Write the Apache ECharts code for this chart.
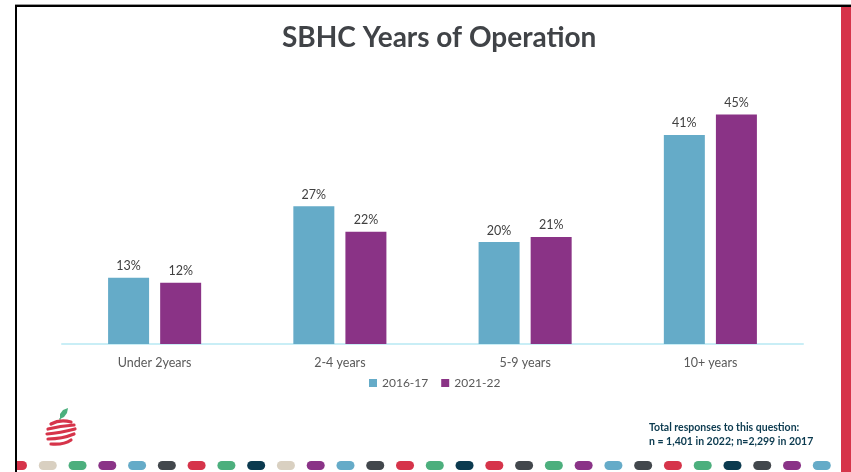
<!DOCTYPE html>
<html>
<head>
<meta charset="utf-8">
<script src="https://cdn.jsdelivr.net/npm/echarts@6/dist/echarts.min.js"></script>
<style>html,body{margin:0;padding:0;background:#fff;}#c{width:851px;height:472px;}</style>
</head>
<body>
<div id="c"></div>
<script>
const categories = ['Under 2years', '2-4 years', '5-9 years', '10+ years'];
const seriesNames = ['2016-17', '2021-22'];
const values2016 = [13, 27, 20, 41];
const values2021 = [12, 22, 21, 45];
const titleText = 'SBHC Years of Operation';
const noteLines = ['Total responses to this question:', 'n = 1,401 in 2022; n=2,299 in 2017'];
const dotColors = ['#d6344a','#d9d0c1','#4caf7d','#8a3387','#65abc8','#42474c','#d6344a','#4caf7d','#0b3a4f','#d9d0c1','#8a3387','#65abc8','#42474c','#d6344a','#4caf7d','#0b3a4f','#d6344a','#42474c','#4caf7d','#8a3387','#65abc8','#42474c','#d6344a','#4caf7d','#0b3a4f','#42474c','#8a3387','#65abc8'];

const chart = echarts.init(document.getElementById('c'), null, {renderer: 'canvas'});

const graphics = [];
// frame lines
graphics.push({type:'rect', shape:{x:15, y:4, width:836, height:1}, style:{fill:'#9a9a9a'}, silent:true});
graphics.push({type:'rect', shape:{x:15, y:5, width:836, height:2}, style:{fill:'#000'}, silent:true});
graphics.push({type:'rect', shape:{x:15, y:5, width:2, height:467}, style:{fill:'#000'}, silent:true});
graphics.push({type:'rect', shape:{x:841, y:7, width:10, height:465}, style:{fill:'#d6344a'}, silent:true});
// dots row
dotColors.forEach((c, i) => {
  graphics.push({type:'rect', shape:{x:9 + i*29.77, y:461, width:18, height:9, r:4.5}, style:{fill:c}, silent:true, z:1});
});
graphics.push({type:'rect', shape:{x:0, y:455, width:15, height:17}, style:{fill:'#fff'}, silent:true, z:2});
graphics.push({type:'rect', shape:{x:15, y:455, width:2, height:17}, style:{fill:'#000'}, silent:true, z:3});
// logo: leaf + stripes
graphics.push({type:'polygon', shape:{points:[[60,419],[60,414],[63,410],[68,408],[67,413],[64,417]]}, style:{fill:'#4caf7d'}, silent:true});
graphics.push({type:'line', shape:{x1:60, y1:418, x2:60, y2:421}, style:{stroke:'#4caf7d', lineWidth:1.2}, silent:true});
const stripes = [
  [51,424,60,419,71,422],
  [48,429,60,426,74,425],
  [47,434,60,433,75,429],
  [48,439,62,439,74,434],
  [51,444,64,445,71,440]
];
stripes.forEach(s => graphics.push({type:'bezierCurve', shape:{x1:s[0], y1:s[1], cpx1:s[2], cpy1:s[3], x2:s[4], y2:s[5]}, style:{stroke:'#d6344a', lineWidth:3.2, fill:null, lineCap:'round'}, silent:true}));
// footnote
graphics.push({type:'text', left:649, top:421, style:{text: noteLines.join('\n'), font:'bold 10.5px Lato', fill:'#0b3a4f', lineHeight:14}, silent:true});

chart.setOption({
  backgroundColor:'#ffffff',
  animation:false,
  title:{text:titleText, left:277, top:19, textStyle:{fontFamily:'Lato', fontWeight:'bold', fontSize:28, color:'#404347'}},
  legend:{data:seriesNames, bottom:78, left:364, icon:'rect', itemWidth:8, itemHeight:8, itemGap:13,
    textStyle:{fontFamily:'Lato', fontSize:12, color:'#595959'}},
  grid:{left:62, right:48, top:89, bottom:128, containLabel:false},
  xAxis:{type:'category', data:categories, axisLine:{show:true, lineStyle:{color:'#c9eef6', width:2}}, axisTick:{show:false},
    axisLabel:{fontFamily:'Lato', fontSize:12.5, color:'#595959', margin:12}},
  yAxis:{type:'value', min:0, max:50, show:false, splitLine:{show:false}},
  series:[
    {name:seriesNames[0], type:'bar', data:values2016, barWidth:41, barGap:'27%', itemStyle:{color:'#65abc8'},
      label:{show:true, position:'top', distance:5, formatter:'{c}%', fontFamily:'Lato', fontSize:12.5, color:'#404040'}},
    {name:seriesNames[1], type:'bar', data:values2021, barWidth:41, itemStyle:{color:'#8a3386'},
      label:{show:true, position:'top', distance:5, formatter:'{c}%', fontFamily:'Lato', fontSize:12.5, color:'#404040'}}
  ],
  graphic: graphics
});
</script>
</body>
</html>
